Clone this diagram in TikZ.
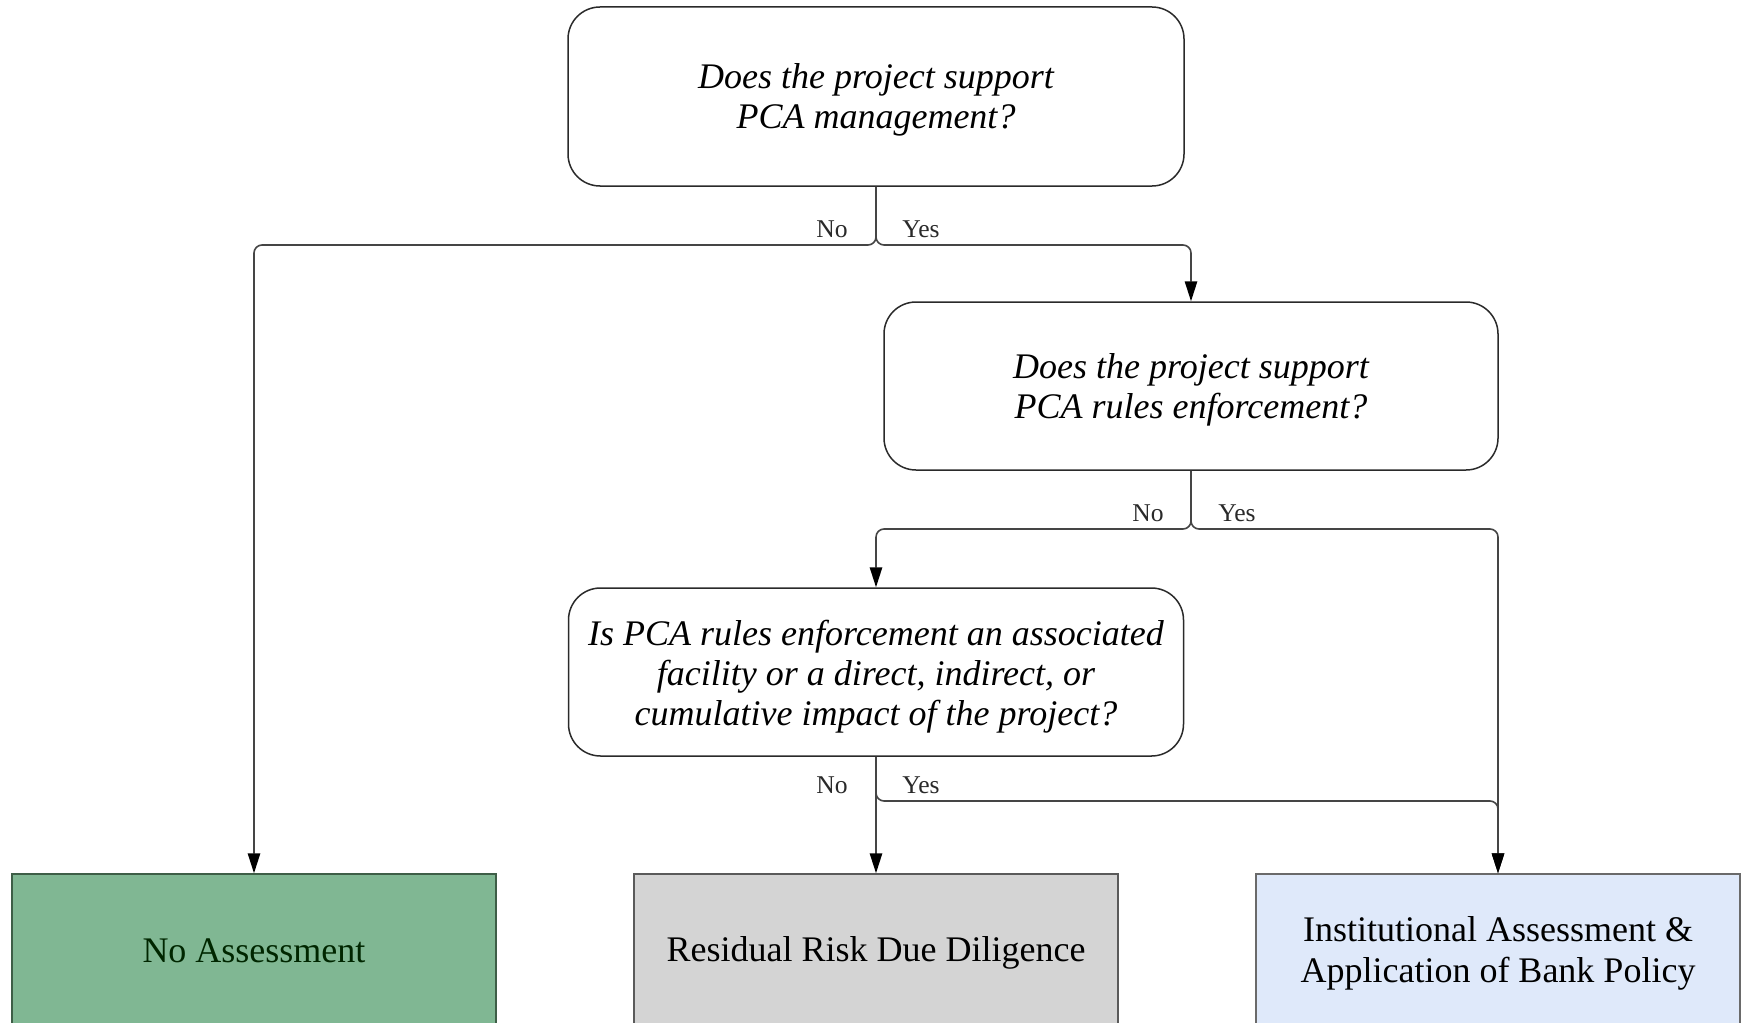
\documentclass[tikz,border=0pt]{standalone}
\usepackage{fontspec}
\setmainfont{Liberation Serif}
\usetikzlibrary{arrows.meta,calc}
\definecolor{greenfill}{HTML}{80B793}
\definecolor{greenline}{HTML}{3E5E47}
\definecolor{grayfill}{HTML}{D4D4D4}
\definecolor{grayline}{HTML}{5A5A5A}
\definecolor{bluefill}{HTML}{DFE9FA}
\definecolor{blueline}{HTML}{6A6A6A}
\definecolor{ink}{HTML}{2A2A2A}
\definecolor{wire}{HTML}{454545}
\begin{document}
\begin{tikzpicture}[x=0.5pt,y=-0.5pt,
  decision/.style={draw=ink, line width=0.75pt, rounded corners=16pt, inner sep=0pt},
  qtext/.style={align=center, inner sep=0pt, font=\fontsize{18}{20}\selectfont\itshape},
  outcome/.style={draw, line width=0.75pt, inner sep=0pt,
    minimum width=242pt, minimum height=75.5pt},
  otext/.style={align=center, inner sep=0pt, font=\fontsize{18}{20.5}\selectfont},
  conn/.style={draw=wire, line width=0.8pt, rounded corners=4pt,
    -{Triangle[length=10pt,width=6.2pt,color=black]}},
  lbl/.style={font=\fontsize{12.8}{14}\selectfont, inner sep=0pt, text=ink}
]
\useasboundingbox (0,0) rectangle (1743,1022);
\clip (0,0) rectangle (1743,1022);
\fill[white] (0,0) rectangle (1743,1022);

% decision nodes
\node[decision, minimum width=308pt, minimum height=89.5pt] (q1) at (876,96.5) {};
\node[qtext] (q1t) at ([yshift=-1.7pt]q1.center) {Does the project support\\PCA management?};
\node[decision, minimum width=307pt, minimum height=84pt] (q2) at (1191,386) {};
\node[qtext] (q2t) at ([yshift=-2.1pt]q2.center) {Does the project support\\PCA rules enforcement?};
\node[decision, minimum width=307.5pt, minimum height=84pt] (q3) at (876,672) {};
\node[qtext] (q3t) at ([yshift=-2.1pt]q3.center)
  {Is PCA rules enforcement an associated\\facility or a direct, indirect, or\\cumulative impact of the project?};

% outcome nodes
\node[outcome, fill=greenfill, draw=greenline] (r1) at (254,949.5) {};
\node[otext, text=black!85!green] (r1t) at ([yshift=-0.7pt]r1.center) {No Assessment};
\node[outcome, fill=grayfill, draw=grayline] (r2) at (876,949.5) {};
\node[otext] (r2t) at ([yshift=-1.8pt]r2.center) {Residual Risk Due Diligence};
\node[outcome, fill=bluefill, draw=blueline] (r3) at (1498,949.5) {};
\node[otext] (r3t) at ([yshift=-2.1pt]r3.center) {Institutional Assessment \&\\Application of Bank Policy};

% bend rows
\coordinate (row1) at (0,245);
\coordinate (row2) at (0,529);
\coordinate (row3) at (0,801);

% connectors
\draw[conn] (q1.south) -- (q1.south |- row1) -| (r1.north);
\draw[conn] (q1.south) -- (q1.south |- row1) -| (q2.north);
\draw[conn] (q2.south) -- (q2.south |- row2) -| (q3.north);
\draw[conn] (q2.south) -- (q2.south |- row2) -| (r3.north);
\draw[conn] (q3.south) -- (r2.north);
\draw[conn] (q3.south) -- (q3.south |- row3) -| (r3.north);

% labels
\node[lbl, anchor=base east] (l1n) at ($(q1.south |- row1)+(-28,-8)$) {No};
\node[lbl, anchor=base west] (l1y) at ($(q1.south |- row1)+(26,-8)$) {Yes};
\node[lbl, anchor=base east] (l2n) at ($(q2.south |- row2)+(-27,-8)$) {No};
\node[lbl, anchor=base west] (l2y) at ($(q2.south |- row2)+(27,-8)$) {Yes};
\node[lbl, anchor=base east] (l3n) at ($(q3.south |- row3)+(-28,-8)$) {No};
\node[lbl, anchor=base west] (l3y) at ($(q3.south |- row3)+(26,-8)$) {Yes};
\end{tikzpicture}
\end{document}
